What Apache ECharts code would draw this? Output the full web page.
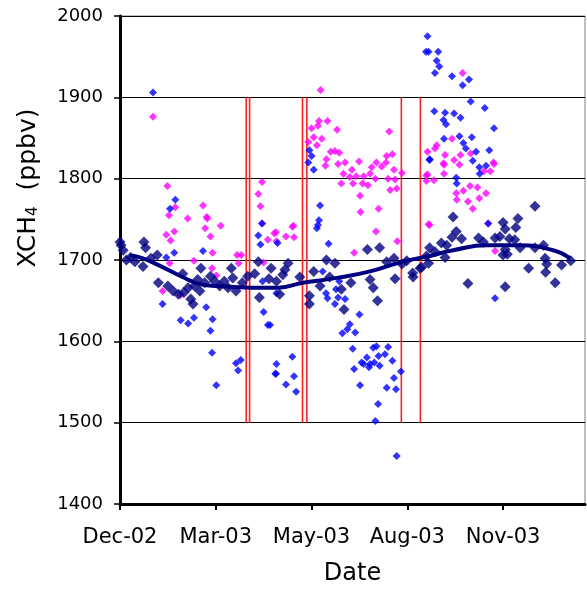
<!DOCTYPE html>
<html><head><meta charset="utf-8">
<script src="https://cdn.jsdelivr.net/npm/echarts@6/dist/echarts.min.js"></script>
<style>html,body{margin:0;padding:0;background:#fff}#c{width:587px;height:591px}</style>
</head><body><div id="c"></div>
<script>
// x values are days since 1 Dec 2002
const xTickDays = [0, 90, 180, 270, 360];
const xTickLabels = ['Dec-02', 'Mar-03', 'May-03', 'Aug-03', 'Nov-03'];
const yTicks = [1400, 1500, 1600, 1700, 1800, 1900, 2000];
const redLineDays = [118.6, 121.8, 171.5, 175.6, 264.4, 282.3];
const redLineRange = [1500, 1900];

const magentaPts = [
[31,1876],[44.5,1791],[52,1765],[46,1755],[78,1767],[63.6,1751],[81.5,1753],[94.6,1742],[80,1739],[133.5,1796],[130,1781],[132,1766],[133.5,1745],[82,1751],[51,1735],[43.5,1731],[47.6,1724],[85,1729],[87,1709],[110,1706],[114,1706],[111.5,1696],[46.7,1696],[69.5,1699],[86.5,1690],[90.5,1681],[40,1662],[57,1657],[145,1733],[139,1725],[135,1697],
[188.6,1909],[180,1862],[187,1871],[186,1865],[195,1871],[204,1860],[182,1851],[189.6,1849],[177,1845],[185,1841],[253,1858],[198,1833],[202,1834],[206,1832],[194,1824],[193,1816],[205,1818],[211.5,1820],[224.6,1821],[218,1811],[210,1806],[216,1802],[222,1803],[208,1794],[219,1794],[229,1803],[228,1794],[233,1792],[236.6,1814],[241,1820],[235,1806],[240,1800],[246,1815],[250,1820],[250.6,1828],[256,1830],[257.5,1811],[265,1807],[252,1800],[258.5,1799],[254,1786],[260,1788],[225.6,1779],[226,1759],[243,1763],[162,1741],[289,1833],[288,1804],[288,1797],
[146.6,1734],[147,1723],[156,1729],[163,1742],[163.5,1728],[240.6,1735],[260.6,1723],[220,1709],[290,1744],
[322,1930],[312,1849],[297.6,1841],[296,1837],[305.5,1829],[320,1829],[329.6,1831],[314,1823],[351,1820],[304,1819],[304.5,1817],[319,1817],[351.5,1818],[342,1809],[348,1809],[304.5,1806],[289,1805],[295,1798],[329,1791],[336,1789],[322.7,1785],[344,1782],[316,1782],[337.7,1776],[316.5,1774],[327,1772],[331.5,1763],[291,1743],[346,1745],[352.5,1711]
];

const bluePts = [
[31,1906],[52,1774],[47,1763],[133.5,1745],[51,1709],[78,1711],[43.5,1703],[40,1646],[57,1626],[64,1622],[69.5,1629],[81,1642],[87,1627],[85,1613],[86.5,1586],[109,1573],[113.5,1577],[130,1730],[132,1719],[134,1674],[135,1636],[139,1620],[148,1721],[147,1659],[90.5,1546],[111,1564],[147,1572],[146,1560],
[178,1835],[180,1828],[177,1820],[182,1811],[188,1767],[187,1749],[186,1743],[185,1739],[196,1720],[190.5,1686],[206,1674],[203,1664],[193.6,1659],[195,1653],[205,1654],[211.5,1652],[202,1646],[225,1633],[216,1621],[213.6,1615],[209,1610],[221,1611],[141,1620],[218.7,1591],[241,1594],[238,1592],[252,1593],[243,1582],[249,1584],[256,1576],[232,1580],[227,1574],[235,1572],[162,1581],[146.6,1560],[156,1547],[163.5,1557],[165.5,1538],[220,1566],[225.6,1546],[229,1572],[234,1568],[239,1574],[244,1570],[257.5,1555],[250.6,1543],[259.4,1541],[264,1563],[242.5,1523],[240,1502],[260,1459],[291,1824],
[289,1975],[287.6,1956],[290,1956],[299,1956],[297.6,1945],[300,1938],[296,1930],[312,1926],[328,1922],[322,1915],[329.6,1895],[342.8,1887],[295.4,1883],[305.5,1881],[314,1880],[304,1872],[320,1875],[306.4,1867],[351.5,1862],[319,1852],[330.6,1851],[304.5,1849],[322.7,1844],[325,1837],[347,1835],[334.6,1833],[291,1823],[331.5,1822],[337.7,1814],[344,1816],[338,1806],[316,1801],[316.5,1794],[346,1745],[352.5,1653]
];

const navyPts = [
[0,1722],[1,1718],[3,1712],[6,1700],[10,1703],[14,1698],
[22.5,1722],[24,1715],[21.6,1692],[29,1702],[35,1706],[36,1672],[59,1683],[64,1666],[73,1676],[76,1690],[66.5,1652],[68.6,1646],[75,1662],[79.6,1672],[89,1674],[93.7,1668],[98,1674],[104.6,1690],[106,1678],[101.5,1666],[109,1662],[126.6,1683],[131,1654],[130,1698],
[45,1668],[50,1662],[55,1658],[60,1660],[70,1668],[85,1680],[115,1672],[120,1680],[140,1677],[142,1690],
[158,1696],[155,1688],[153,1682],[147,1674],[150,1658],[169,1679],[178,1656],[178,1646],[182,1686],[188,1668],[194,1700],[202,1696],[197,1679],[208,1664],[210.5,1639],[217,1672],[232.5,1713],[244,1715],[235,1676],[238,1666],[242,1650],[250.6,1698],[257.5,1702],[258.5,1677],[265,1695],[269.5,1699],[275,1684],[275.5,1679],[282,1690],[288,1705],
[390,1766],[313,1753],[374,1751],[360,1746],[372,1740],[362,1738],[316,1735],[312,1728],[321,1726],[337,1727],[352.5,1727],[357,1729],[366,1726],[371,1725],[302,1721],[307,1718],[291,1715],[296,1710],[305.5,1703],[290,1696],[283.5,1691],[341.5,1722],[362,1713],[360,1706],[364,1707],[376,1715],[390,1715],[398,1718],[399.5,1702],[401,1695],[400,1685],[384,1690],[415,1694],[423.6,1699],[409,1672],[327,1671],[362,1667]
];

const trendPts = [
[9,1706],[21.6,1702],[35.7,1694],[57.3,1680],[76,1670],[92,1668],[123,1666],[148.5,1666],[172,1672],[204,1678],[235,1686],[266,1698],[291,1705],[313,1712],[345,1718],[376,1718],[407,1712],[423,1702]
];

const font = 'DejaVu Sans';
const chart = echarts.init(document.getElementById('c'));
const series = [];
redLineDays.forEach(d => {
  series.push({type: 'line', data: [[d, redLineRange[0]], [d, redLineRange[1]]], symbol: 'none',
    lineStyle: {color: '#ff2020', width: 1.6}, z: 1, silent: true});
});
series.push({type: 'scatter', data: magentaPts, symbol: 'diamond', symbolSize: 8, itemStyle: {color: '#ff00ff'}, z: 2});
series.push({type: 'scatter', data: bluePts, symbol: 'diamond', symbolSize: 8, itemStyle: {color: '#0000ff'}, z: 3});
series.push({type: 'scatter', data: navyPts, symbol: 'diamond', symbolSize: 11, itemStyle: {color: '#000080'}, z: 4});
series.push({type: 'line', data: trendPts, smooth: true, symbol: 'none', lineStyle: {color: '#000080', width: 4}, z: 5});

chart.setOption({
  animation: false,
  backgroundColor: '#fff',
  grid: {left: 120, right: 2, top: 16, bottom: 83, show: true, borderColor: '#808080', borderWidth: 1},
  xAxis: {
    type: 'value', min: 0, max: 437, interval: 90,
    axisLine: {onZero: false, lineStyle: {color: '#000', width: 3}},
    axisTick: {show: true, length: 6, lineStyle: {color: '#000', width: 2}, customValues: xTickDays},
    axisLabel: {customValues: xTickDays, margin: 23, fontFamily: font, fontSize: 21, color: '#000',
      formatter: v => { const i = xTickDays.indexOf(v); return i >= 0 ? xTickLabels[i] : ''; }},
    splitLine: {show: false},
    name: 'Date', nameLocation: 'middle', nameGap: 58,
    nameTextStyle: {fontFamily: font, fontSize: 24, color: '#000'}
  },
  yAxis: {
    type: 'value', min: yTicks[0], max: yTicks[yTicks.length - 1], interval: 100,
    axisLine: {show: true, lineStyle: {color: '#000', width: 3}},
    axisTick: {show: true, length: 6, lineStyle: {color: '#000', width: 1.5}},
    axisLabel: {margin: 17, fontFamily: font, fontSize: 18, color: '#000', formatter: v => String(v)},
    splitLine: {show: true, lineStyle: {color: '#000', width: 1}}
  },
  graphic: [{
    type: 'text', x: 28, y: 188, rotation: Math.PI / 2,
    style: {text: 'XCH{sub|4}  (ppbv)', fontFamily: font, fontSize: 25, fill: '#000',
      align: 'center', verticalAlign: 'middle',
      rich: {sub: {fontFamily: font, fontSize: 15, verticalAlign: 'bottom', lineHeight: 15, fill: '#000'}}}
  }],
  series: series
});
</script>
</body></html>
